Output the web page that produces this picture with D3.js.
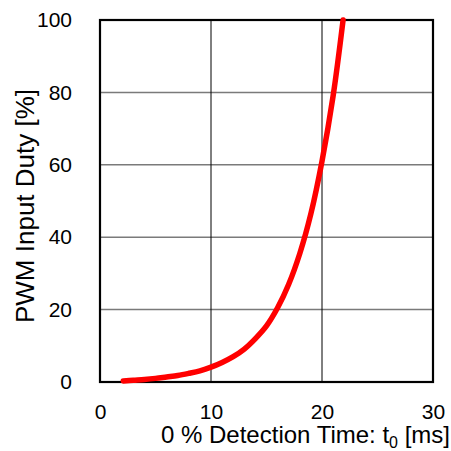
<!DOCTYPE html>
<html>
<head>
<meta charset="utf-8">
<script src="https://cdn.jsdelivr.net/npm/d3@7"></script>
<style>
  html, body { margin: 0; padding: 0; background: #fff; }
  text { font-family: "Liberation Sans", Arial, sans-serif; fill: #000; }
</style>
</head>
<body>
<div id="chart"></div>
<script>
const width = 451;
const height = 451;
const margin = {top: 20, left: 100, bottom: 69, right: 18};

// detection time t0 [ms] vs PWM input duty [%]
const detectionTime = [2.1, 3, 4, 5, 6, 7, 8, 9, 10, 11, 12, 13, 14, 15, 16, 17, 18, 19, 20, 21, 21.9];
const inputDuty = [0.3, 0.5, 0.7, 1.0, 1.4, 1.8, 2.4, 3.1, 4.1, 5.4, 7.0, 9.1, 12, 15.5, 20.5, 27, 35.5, 46.5, 61, 79, 100];
const xTicks = [0, 10, 20, 30];
const yTicks = [0, 20, 40, 60, 80, 100];

const data = detectionTime.map((t, i) => ({t: t, duty: inputDuty[i]}));

const x = d3.scaleLinear()
  .domain([0, 30])
  .range([margin.left, width - margin.right]);

const y = d3.scaleLinear()
  .domain([0, 100])
  .range([height - margin.bottom, margin.top]);

const svg = d3.select('#chart').append('svg')
  .attr('width', width)
  .attr('height', height);

// grid
svg.append('g')
  .selectAll('line').data(yTicks.slice(1, -1)).enter().append('line')
  .attr('x1', x(0)).attr('x2', x(30))
  .attr('y1', d => y(d)).attr('y2', d => y(d))
  .style('stroke', '#7a7a7a')
  .style('stroke-width', 1.5);

svg.append('g')
  .selectAll('line').data(xTicks.slice(1, -1)).enter().append('line')
  .attr('x1', d => x(d)).attr('x2', d => x(d))
  .attr('y1', y(0)).attr('y2', y(100))
  .style('stroke', '#000')
  .style('stroke-width', 1);

// axes (labels only)
const xAxis = g => g
  .attr('transform', `translate(0, ${y(0)})`)
  .call(d3.axisBottom(x).tickValues(xTicks).tickSize(0).tickPadding(22))
  .call(g => g.select('.domain').remove())
  .call(g => g.selectAll('text')
    .style('font-size', '21px')
    .style('font-family', '"Liberation Sans", Arial, sans-serif')
    .attr('fill', '#000'));

const yAxis = g => g
  .attr('transform', `translate(${x(0)}, 0)`)
  .call(d3.axisLeft(y).tickValues(yTicks).tickSize(0).tickPadding(28))
  .call(g => g.select('.domain').remove())
  .call(g => g.selectAll('text')
    .style('font-size', '21px')
    .style('font-family', '"Liberation Sans", Arial, sans-serif')
    .attr('fill', '#000'));

svg.append('g').call(xAxis);
svg.append('g').call(yAxis);

// frame
svg.append('rect')
  .attr('x', x(0)).attr('y', y(100))
  .attr('width', x(30) - x(0)).attr('height', y(0) - y(100))
  .style('fill', 'none')
  .style('stroke', '#000')
  .style('stroke-width', 2.2);

// curve
const line = d3.line()
  .x(d => x(d.t))
  .y(d => y(d.duty))
  .curve(d3.curveCatmullRom.alpha(0.5));

svg.append('path')
  .datum(data)
  .attr('d', line)
  .style('fill', 'none')
  .style('stroke', '#ff0000')
  .style('stroke-width', 5.5)
  .style('stroke-linecap', 'round');

// axis titles
const xt = svg.append('text')
  .attr('x', 450)
  .attr('y', 443)
  .attr('text-anchor', 'end')
  .style('font-size', '24px');
xt.append('tspan').text('0 % Detection Time: t');
xt.append('tspan').text('0').attr('dy', 5).style('font-size', '16px');
xt.append('tspan').text(' [ms]').attr('dy', -5);

svg.append('text')
  .attr('transform', 'translate(34, 206) rotate(-90)')
  .attr('text-anchor', 'middle')
  .style('font-size', '26px')
  .text('PWM Input Duty [%]');
</script>
</body>
</html>
